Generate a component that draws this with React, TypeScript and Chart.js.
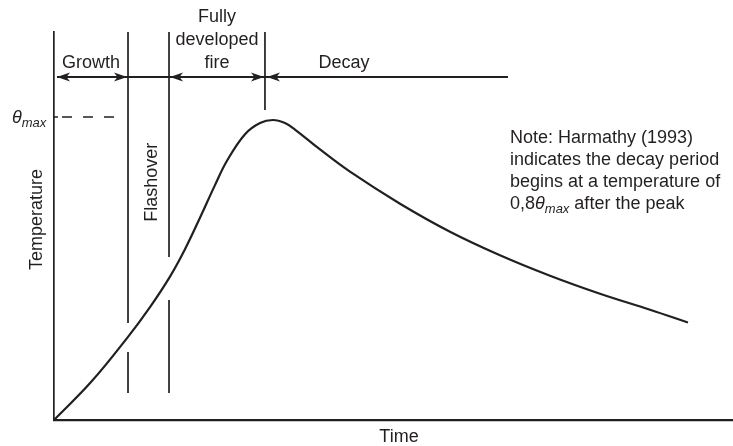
import React, { useEffect, useRef } from "react";
import { Chart, registerables } from "chart.js";

Chart.register(...registerables);

// ---- data (schematic units: time 0..100, temperature 0..100) ----
const timeValues = [
  0, 5.45, 10.9, 14.14, 17.08, 19.29, 21.5, 23.71, 25.48, 28.13, 30.34, 32.25,
  34.02, 35.49, 39.18, 43.59, 50.96, 58.32, 65.68, 73.05, 80.41, 87.78, 93.37,
];
const temperatureValues = [
  0, 9.77, 21.44, 29.1, 36.96, 44.02, 52.14, 60.54, 66.8, 73.66, 76.55, 77.32,
  76.55, 74.87, 69.72, 64.0, 55.75, 48.53, 42.47, 37.19, 32.55, 28.43, 25.13,
];
const thetaMax = 78.1;
const thetaMaxDash = [1.18, 8.98];
// phase boundaries: end of growth, end of flashover, start of decay
const phaseBoundaries = [10.9, 16.94, 31.07];
const growthLineSegments = [
  [100, 25.0],
  [17.5, 6.96],
];
const flashoverLineSegments = [
  [100, 42.0],
  [30.93, 6.96],
];
const decayLineSegments = [[100, 79.9]];
const arrowLevel = 88.4;
const arrowStart = 0.44;
const decayArrowEnd = 66.86;

const phaseLabels = ["Growth", "Fully", "developed", "fire", "Decay"];
const phaseLabelX = [5.45, 24.0, 24.0, 24.0, 42.71];
const phaseLabelY = [90.72, 102.58, 96.65, 90.72, 90.72];
const flashoverLabel = "Flashover";
const flashoverLabelPos = [15.2, 61.3];
const yAxisLabel = "Temperature";
const yAxisLabelPos = [-1.77, 51.7];
const xAxisLabel = "Time";
const xAxisLabelPos = [50.81, -5.67];
const thetaLabelPos = [-6.19, 76.55];
const noteLines = [
  "Note: Harmathy (1993)",
  "indicates the decay period",
  "begins at a temperature of",
];
const noteLastPrefix = "0,8";
const noteLastSuffix = " after the peak";
const noteX = 67.16;
const noteBaselines = [71.39, 65.72, 60.05, 54.38];

const INK = "#231f20";
const FONT_FAMILY = "'Liberation Sans', Arial, Helvetica, sans-serif";

function segmentsToData(x: number, segs: number[][]) {
  const out: { x: number; y: number | null }[] = [];
  segs.forEach((s, i) => {
    if (i > 0) out.push({ x, y: null });
    out.push({ x, y: s[0] });
    out.push({ x, y: s[1] });
  });
  return out;
}

function drawArrowHead(ctx: CanvasRenderingContext2D, tipX: number, y: number, dir: number) {
  const len = 13;
  const half = 4.5;
  const notch = 9.5;
  ctx.beginPath();
  ctx.moveTo(tipX, y);
  ctx.lineTo(tipX - dir * len, y - half);
  ctx.lineTo(tipX - dir * notch, y);
  ctx.lineTo(tipX - dir * len, y + half);
  ctx.closePath();
  ctx.fill();
}

const annotationPlugin = {
  id: "fireAnnotations",
  afterDatasetsDraw(chart: any) {
    const ctx: CanvasRenderingContext2D = chart.ctx;
    const xs = chart.scales.x;
    const ys = chart.scales.y;
    const X = (v: number) => xs.getPixelForValue(v);
    const Y = (v: number) => ys.getPixelForValue(v);
    ctx.save();
    ctx.fillStyle = INK;
    ctx.strokeStyle = INK;

    // arrow line
    const ay = Y(arrowLevel);
    ctx.lineWidth = 2;
    ctx.beginPath();
    ctx.moveTo(X(arrowStart), ay);
    ctx.lineTo(X(decayArrowEnd), ay);
    ctx.stroke();
    drawArrowHead(ctx, X(arrowStart), ay, -1);
    drawArrowHead(ctx, X(phaseBoundaries[0]) - 1, ay, 1);
    drawArrowHead(ctx, X(phaseBoundaries[1]) + 1, ay, -1);
    drawArrowHead(ctx, X(phaseBoundaries[2]) - 1, ay, 1);
    drawArrowHead(ctx, X(phaseBoundaries[2]) + 2, ay, -1);

    // theta max tick
    const ty = Y(thetaMax);
    ctx.lineWidth = 1.5;
    ctx.beginPath();
    ctx.moveTo(X(0), ty);
    ctx.lineTo(X(0) + 4, ty);
    ctx.stroke();

    // phase labels
    ctx.font = `18px ${FONT_FAMILY}`;
    ctx.textAlign = "center";
    ctx.textBaseline = "alphabetic";
    phaseLabels.forEach((t, i) => {
      ctx.fillText(t, X(phaseLabelX[i]), Y(phaseLabelY[i]));
    });

    // x axis label
    ctx.fillText(xAxisLabel, X(xAxisLabelPos[0]), Y(xAxisLabelPos[1]));

    // rotated labels
    const rot = (t: string, x: number, y: number) => {
      ctx.save();
      ctx.translate(X(x), Y(y));
      ctx.rotate(-Math.PI / 2);
      ctx.textAlign = "center";
      ctx.fillText(t, 0, 0);
      ctx.restore();
    };
    rot(flashoverLabel, flashoverLabelPos[0], flashoverLabelPos[1]);
    rot(yAxisLabel, yAxisLabelPos[0], yAxisLabelPos[1]);

    // theta max label
    ctx.textAlign = "left";
    let tx = X(thetaLabelPos[0]);
    const tby = Y(thetaLabelPos[1]);
    ctx.font = `italic 18px ${FONT_FAMILY}`;
    ctx.fillText("θ", tx, tby);
    tx += ctx.measureText("θ").width;
    ctx.font = `italic 13px ${FONT_FAMILY}`;
    ctx.fillText("max", tx, tby + 4);

    // note
    ctx.font = `18px ${FONT_FAMILY}`;
    const nx = X(noteX);
    noteLines.forEach((t, i) => ctx.fillText(t, nx, Y(noteBaselines[i])));
    const ly = Y(noteBaselines[3]);
    let lx = nx;
    ctx.fillText(noteLastPrefix, lx, ly);
    lx += ctx.measureText(noteLastPrefix).width;
    ctx.font = `italic 18px ${FONT_FAMILY}`;
    ctx.fillText("θ", lx, ly);
    lx += ctx.measureText("θ").width;
    ctx.font = `italic 13px ${FONT_FAMILY}`;
    ctx.fillText("max", lx, ly + 4);
    lx += ctx.measureText("max").width;
    ctx.font = `18px ${FONT_FAMILY}`;
    ctx.fillText(noteLastSuffix, lx, ly);

    ctx.restore();
  },
};

export default function App() {
  const canvasRef = useRef<HTMLCanvasElement | null>(null);

  useEffect(() => {
    if (!canvasRef.current) return;
    const curve = timeValues.map((t, i) => ({ x: t, y: temperatureValues[i] }));
    const chart = new Chart(canvasRef.current, {
      type: "line",
      data: {
        datasets: [
          {
            data: curve,
            borderColor: INK,
            borderWidth: 2.2,
            tension: 0.4,
            pointRadius: 0,
            fill: false,
          },
          {
            data: thetaMaxDash.map((x) => ({ x, y: thetaMax })),
            borderColor: INK,
            borderWidth: 1.5,
            borderDash: [10, 11],
            pointRadius: 0,
          },
          {
            data: segmentsToData(phaseBoundaries[0], growthLineSegments),
            borderColor: INK,
            borderWidth: 1.7,
            pointRadius: 0,
            spanGaps: false,
          },
          {
            data: segmentsToData(phaseBoundaries[1], flashoverLineSegments),
            borderColor: INK,
            borderWidth: 1.7,
            pointRadius: 0,
            spanGaps: false,
          },
          {
            data: segmentsToData(phaseBoundaries[2], decayLineSegments),
            borderColor: INK,
            borderWidth: 1.7,
            pointRadius: 0,
            spanGaps: false,
          },
        ],
      } as any,
      options: {
        responsive: false,
        animation: false,
        layout: { padding: { left: 54, right: 0, top: 32, bottom: 26 } },
        plugins: { legend: { display: false }, tooltip: { enabled: false } },
        scales: {
          x: {
            type: "linear",
            min: 0,
            max: 100,
            grid: { display: false, drawTicks: false },
            ticks: { display: false },
            border: { display: true, color: INK, width: 2.2 },
          },
          y: {
            type: "linear",
            min: 0,
            max: 100,
            grid: { display: false, drawTicks: false },
            ticks: { display: false },
            border: { display: true, color: INK, width: 1.7 },
          },
        },
      } as any,
      plugins: [annotationPlugin],
    });
    return () => chart.destroy();
  }, []);

  return (
    <div style={{ position: "absolute", left: 0, top: 0, width: 733, height: 446, background: "#fff" }}>
      <canvas ref={canvasRef} width={733} height={446} style={{ display: "block" }} />
    </div>
  );
}
